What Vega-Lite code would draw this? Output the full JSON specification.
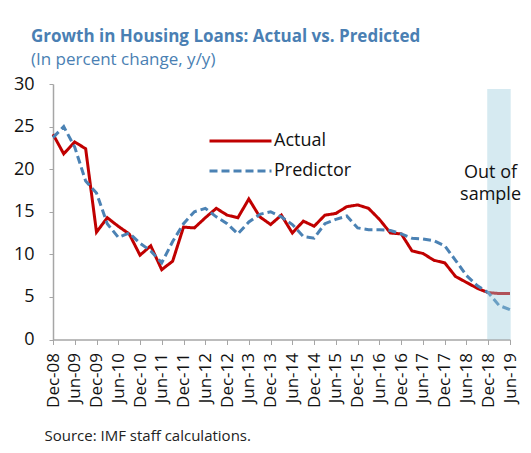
{
  "$schema": "https://vega.github.io/schema/vega-lite/v6.json",
  "autosize": {"type": "none"},
  "width": 457,
  "height": 255.5,
  "padding": {"left": 53, "top": 84, "right": 21, "bottom": 113.5},
  "background": "white",
  "title": {
    "text": "Growth in Housing Loans: Actual vs. Predicted",
    "subtitle": "(In percent change, y/y)",
    "anchor": "start",
    "frame": "group",
    "dx": -22,
    "font": "Open Sans",
    "fontSize": 17,
    "fontWeight": "bold",
    "color": "#4A7FB3",
    "subtitleFont": "Open Sans",
    "subtitleFontSize": 17,
    "subtitleColor": "#4A7FB3",
    "subtitlePadding": 6,
    "offset": 6
  },
  "config": {
    "view": {"stroke": null},
    "font": "Open Sans"
  },
  "datasets": {
    "series": [
      {"date": "2008/12/01", "series": "Actual", "value": 24.1},
      {"date": "2009/03/01", "series": "Actual", "value": 21.8},
      {"date": "2009/06/01", "series": "Actual", "value": 23.2},
      {"date": "2009/09/01", "series": "Actual", "value": 22.4},
      {"date": "2009/12/01", "series": "Actual", "value": 12.6},
      {"date": "2010/03/01", "series": "Actual", "value": 14.3},
      {"date": "2010/06/01", "series": "Actual", "value": 13.3},
      {"date": "2010/09/01", "series": "Actual", "value": 12.4},
      {"date": "2010/12/01", "series": "Actual", "value": 9.9},
      {"date": "2011/03/01", "series": "Actual", "value": 11.0},
      {"date": "2011/06/01", "series": "Actual", "value": 8.2},
      {"date": "2011/09/01", "series": "Actual", "value": 9.2},
      {"date": "2011/12/01", "series": "Actual", "value": 13.2},
      {"date": "2012/03/01", "series": "Actual", "value": 13.1},
      {"date": "2012/06/01", "series": "Actual", "value": 14.3},
      {"date": "2012/09/01", "series": "Actual", "value": 15.4},
      {"date": "2012/12/01", "series": "Actual", "value": 14.6},
      {"date": "2013/03/01", "series": "Actual", "value": 14.3},
      {"date": "2013/06/01", "series": "Actual", "value": 16.5},
      {"date": "2013/09/01", "series": "Actual", "value": 14.4},
      {"date": "2013/12/01", "series": "Actual", "value": 13.5},
      {"date": "2014/03/01", "series": "Actual", "value": 14.6},
      {"date": "2014/06/01", "series": "Actual", "value": 12.5},
      {"date": "2014/09/01", "series": "Actual", "value": 13.9},
      {"date": "2014/12/01", "series": "Actual", "value": 13.3},
      {"date": "2015/03/01", "series": "Actual", "value": 14.6},
      {"date": "2015/06/01", "series": "Actual", "value": 14.8},
      {"date": "2015/09/01", "series": "Actual", "value": 15.6},
      {"date": "2015/12/01", "series": "Actual", "value": 15.8},
      {"date": "2016/03/01", "series": "Actual", "value": 15.4},
      {"date": "2016/06/01", "series": "Actual", "value": 14.1},
      {"date": "2016/09/01", "series": "Actual", "value": 12.5},
      {"date": "2016/12/01", "series": "Actual", "value": 12.4},
      {"date": "2017/03/01", "series": "Actual", "value": 10.4},
      {"date": "2017/06/01", "series": "Actual", "value": 10.1},
      {"date": "2017/09/01", "series": "Actual", "value": 9.3},
      {"date": "2017/12/01", "series": "Actual", "value": 9.0},
      {"date": "2018/03/01", "series": "Actual", "value": 7.4},
      {"date": "2018/06/01", "series": "Actual", "value": 6.7},
      {"date": "2018/09/01", "series": "Actual", "value": 6.0},
      {"date": "2018/12/01", "series": "Actual", "value": 5.5},
      {"date": "2019/03/01", "series": "Actual", "value": 5.4},
      {"date": "2019/06/01", "series": "Actual", "value": 5.4},
      {"date": "2008/12/01", "series": "Predictor", "value": 23.7},
      {"date": "2009/03/01", "series": "Predictor", "value": 25.0},
      {"date": "2009/06/01", "series": "Predictor", "value": 22.6},
      {"date": "2009/09/01", "series": "Predictor", "value": 18.6},
      {"date": "2009/12/01", "series": "Predictor", "value": 17.2},
      {"date": "2010/03/01", "series": "Predictor", "value": 13.6},
      {"date": "2010/06/01", "series": "Predictor", "value": 12.0},
      {"date": "2010/09/01", "series": "Predictor", "value": 12.5},
      {"date": "2010/12/01", "series": "Predictor", "value": 11.3},
      {"date": "2011/03/01", "series": "Predictor", "value": 10.4},
      {"date": "2011/06/01", "series": "Predictor", "value": 9.0},
      {"date": "2011/09/01", "series": "Predictor", "value": 11.5},
      {"date": "2011/12/01", "series": "Predictor", "value": 13.6},
      {"date": "2012/03/01", "series": "Predictor", "value": 15.0},
      {"date": "2012/06/01", "series": "Predictor", "value": 15.4},
      {"date": "2012/09/01", "series": "Predictor", "value": 14.4},
      {"date": "2012/12/01", "series": "Predictor", "value": 13.6},
      {"date": "2013/03/01", "series": "Predictor", "value": 12.4},
      {"date": "2013/06/01", "series": "Predictor", "value": 13.8},
      {"date": "2013/09/01", "series": "Predictor", "value": 14.7},
      {"date": "2013/12/01", "series": "Predictor", "value": 15.0},
      {"date": "2014/03/01", "series": "Predictor", "value": 14.4},
      {"date": "2014/06/01", "series": "Predictor", "value": 13.5},
      {"date": "2014/09/01", "series": "Predictor", "value": 12.1},
      {"date": "2014/12/01", "series": "Predictor", "value": 11.9},
      {"date": "2015/03/01", "series": "Predictor", "value": 13.6},
      {"date": "2015/06/01", "series": "Predictor", "value": 14.1},
      {"date": "2015/09/01", "series": "Predictor", "value": 14.5},
      {"date": "2015/12/01", "series": "Predictor", "value": 13.1},
      {"date": "2016/03/01", "series": "Predictor", "value": 12.9},
      {"date": "2016/06/01", "series": "Predictor", "value": 12.9},
      {"date": "2016/09/01", "series": "Predictor", "value": 12.8},
      {"date": "2016/12/01", "series": "Predictor", "value": 12.4},
      {"date": "2017/03/01", "series": "Predictor", "value": 11.9},
      {"date": "2017/06/01", "series": "Predictor", "value": 11.8},
      {"date": "2017/09/01", "series": "Predictor", "value": 11.6},
      {"date": "2017/12/01", "series": "Predictor", "value": 11.0},
      {"date": "2018/03/01", "series": "Predictor", "value": 9.3},
      {"date": "2018/06/01", "series": "Predictor", "value": 7.5},
      {"date": "2018/09/01", "series": "Predictor", "value": 6.3},
      {"date": "2018/12/01", "series": "Predictor", "value": 5.5},
      {"date": "2019/03/01", "series": "Predictor", "value": 4.0},
      {"date": "2019/06/01", "series": "Predictor", "value": 3.5}
    ],
    "shade": [
      {"start": "2018/11/22", "end": "2019/06/07", "low": 0, "high": 29.4}
    ],
    "note": [
      {"date": "2018/12/20", "value": 19.0, "label": "Out of\nsample"}
    ]
  },
  "layer": [
    {
      "data": {"name": "series"},
      "mark": {"type": "line", "strokeWidth": 3, "strokeCap": "butt"},
      "encoding": {
        "x": {
          "field": "date",
          "type": "temporal",
          "scale": {"domain": [{"year": 2008, "month": 12, "date": 1}, {"year": 2019, "month": 6, "date": 1}]},
          "axis": {
            "title": "Source:  IMF  staff calculations.",
            "titleFont": "Open Sans",
            "titleFontSize": 15,
            "titleFontWeight": "normal",
            "titleColor": "#222222",
            "titleAnchor": "start",
            "titleAlign": "left",
            "titleBaseline": "alphabetic",
            "titleX": -9,
            "titleY": 101,
            "format": "%b-%y",
            "tickCount": 100,
            "values": {"expr": "[datetime(2008,11,1), datetime(2009,5,1), datetime(2009,11,1), datetime(2010,5,1), datetime(2010,11,1), datetime(2011,5,1), datetime(2011,11,1), datetime(2012,5,1), datetime(2012,11,1), datetime(2013,5,1), datetime(2013,11,1), datetime(2014,5,1), datetime(2014,11,1), datetime(2015,5,1), datetime(2015,11,1), datetime(2016,5,1), datetime(2016,11,1), datetime(2017,5,1), datetime(2017,11,1), datetime(2018,5,1), datetime(2018,11,1), datetime(2019,5,1)]"},
            "labelAngle": -90,
            "labelAlign": "right",
            "labelBaseline": "middle",
            "labelFont": "Open Sans",
            "labelFontSize": 17,
            "labelColor": "#111111",
            "labelPadding": 8,
            "labelOverlap": false,
            "labelBound": false,
            "labelFlush": false,
            "grid": false,
            "domainColor": "#A6A6A6",
            "domainWidth": 1.5,
            "tickColor": "#A6A6A6",
            "tickWidth": 1,
            "tickSize": 5
          }
        },
        "y": {
          "field": "value",
          "type": "quantitative",
          "scale": {"domain": [0, 30], "nice": false, "zero": true},
          "axis": {
            "title": null,
            "values": [0, 5, 10, 15, 20, 25, 30],
            "labelFont": "Open Sans",
            "labelFontSize": 18,
            "labelColor": "#111111",
            "labelPadding": 15,
            "grid": false,
            "domainColor": "#A6A6A6",
            "domainWidth": 1.5,
            "tickColor": "#A6A6A6",
            "tickSize": 4
          }
        },
        "color": {
          "field": "series",
          "type": "nominal",
          "scale": {"domain": ["Actual", "Predictor"], "range": ["#C00000", "#4B82B4"]},
          "legend": {
            "title": null,
            "orient": "none",
            "legendX": 155,
            "legendY": 42,
            "symbolType": "stroke",
            "symbolSize": 3844,
            "symbolStrokeWidth": 3,
            "labelFont": "Open Sans",
            "labelFontSize": 18,
            "labelColor": "#111111",
            "labelOffset": 1,
            "clipHeight": 30,
            "rowPadding": 0,
            "padding": 0
          }
        },
        "strokeDash": {
          "field": "series",
          "type": "nominal",
          "scale": {"domain": ["Actual", "Predictor"], "range": [[1, 0], [8, 4]]},
          "legend": null
        }
      }
    },
    {
      "data": {"name": "shade"},
      "mark": {"type": "rect", "color": "#98CADC", "opacity": 0.4},
      "encoding": {
        "x": {"field": "start", "type": "temporal"},
        "x2": {"field": "end"},
        "y": {"field": "low", "type": "quantitative"},
        "y2": {"field": "high"}
      }
    },
    {
      "data": {"name": "note"},
      "mark": {"type": "text", "font": "Open Sans", "fontSize": 18, "color": "#111111", "align": "center", "baseline": "alphabetic", "lineBreak": "\n", "lineHeight": 22},
      "encoding": {
        "x": {"field": "date", "type": "temporal"},
        "y": {"field": "value", "type": "quantitative"},
        "text": {"field": "label", "type": "nominal"}
      }
    }
  ]
}
